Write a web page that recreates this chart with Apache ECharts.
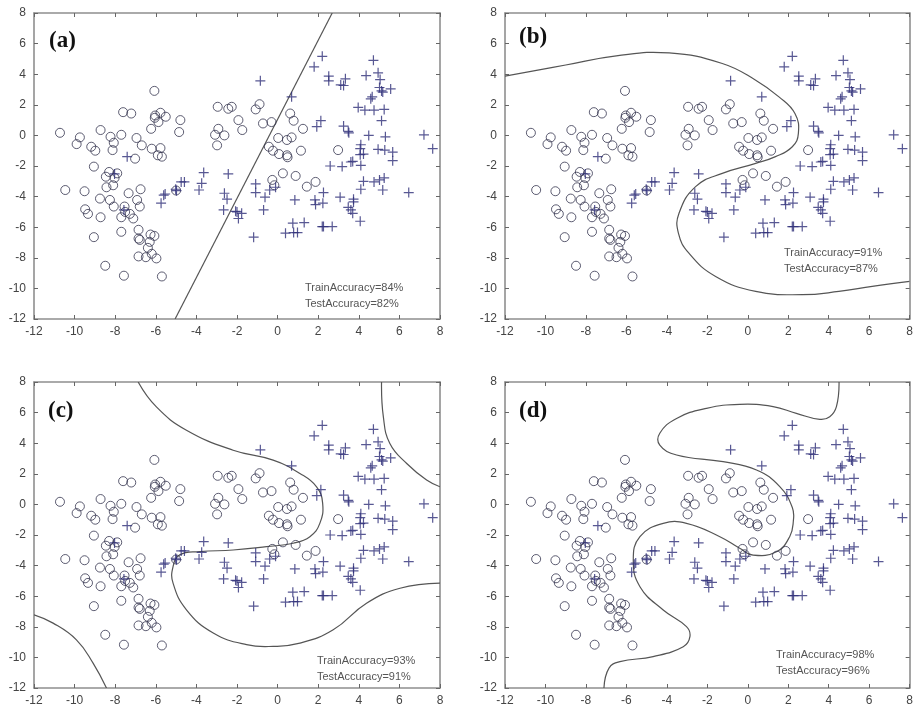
<!DOCTYPE html>
<html><head><meta charset="utf-8">
<script src="https://cdn.jsdelivr.net/npm/echarts@6/dist/echarts.min.js"></script>
<style>html,body{margin:0;background:#fff}#c{width:916px;height:710px}</style>
</head><body><div id="c"></div>
<script>
// ---- data (shared by all four panels) ----
const circles = [
[-10.72,0.17],[-9.74,-0.13],[-9.90,-0.57],[-9.18,-0.74],[-8.98,-1.0],[-8.72,0.35],[-9.05,-2.04],
[-10.46,-3.57],[-9.51,-3.65],[-9.48,-4.83],[-9.34,-5.13],[-8.75,-4.13],[-8.72,-5.35],[-9.05,-6.65],
[-8.49,-8.52],[-8.43,-3.39],[-8.46,-2.70],[-8.30,-2.39],[-8.10,-3.26],[-8.26,-4.22],[-8.07,-4.65],
[-8.23,-0.09],[-8.07,-0.48],[-8.13,-0.96],[-7.90,-2.48],[-8.03,-2.78],[-7.70,0.04],[-7.61,1.52],
[-7.21,1.43],[-7.70,-5.35],[-7.54,-4.65],[-7.34,-3.78],[-7.51,-5.0],[-7.28,-5.13],[-7.11,-5.43],
[-7.70,-6.30],[-7.57,-9.17],[-6.95,-0.17],[-7.02,-1.52],[-6.69,-0.65],[-6.92,-4.22],[-6.79,-4.65],
[-6.75,-3.52],[-6.85,-6.17],[-6.85,-6.74],[-6.79,-6.83],[-6.85,-7.91],[-6.49,-7.96],[-6.39,-7.35],
[-6.30,-6.96],[-6.26,-6.48],[-6.07,-6.57],[-6.20,-7.74],[-5.97,-8.04],[-5.70,-9.22],[-6.07,2.91],
[-6.23,0.43],[-6.03,1.30],[-5.77,1.48],[-5.87,0.87],[-5.51,1.22],[-6.20,-0.87],[-5.90,-1.30],
[-5.70,-1.39],[-5.77,-0.83],[-4.79,1.0],[-4.85,0.22],[-2.95,1.87],[-2.92,0.43],[-3.08,0.04],
[-2.62,0.0],[-2.98,-0.65],[-2.43,1.74],[-2.26,1.87],[-1.93,1.0],[-1.74,0.35],[-1.08,1.70],
[-0.89,2.04],[-0.72,0.78],[-0.30,0.87],[0.03,-0.17],[0.46,-0.30],[0.69,-0.13],[0.62,1.43],
[0.79,0.96],[1.25,0.43],[-0.43,-0.74],[-0.23,-1.0],[0.07,-1.22],[0.46,-1.30],[0.49,-1.43],
[1.15,-1.0],[0.26,-2.48],[0.89,-2.65],[-0.26,-2.91],[-0.16,-3.26],[1.44,-3.35],[1.87,-3.04],
[2.98,-0.96],[-6.05,1.15],[-5.0,-3.6]
];
const pluses = [
[-7.41,-1.39],[-8.03,-2.52],[-7.57,-4.87],[-5.74,-4.43],[-5.54,-3.83],[-5.61,-3.91],[-4.98,-3.61],
[-5.02,-3.52],[-4.75,-3.04],[-4.59,-3.04],[-3.87,-3.57],[-3.74,-3.13],[-3.64,-2.43],[-2.43,-2.52],
[-2.62,-3.78],[-2.49,-4.17],[-2.66,-4.87],[-2.07,-4.96],[-1.93,-5.43],[-1.77,-5.09],[-2.0,-5.0],
[-1.18,-6.65],[-1.08,-3.17],[-1.08,-3.74],[-0.62,-4.04],[-0.69,-4.87],[-0.39,-3.57],[-0.10,-3.39],
[-0.85,3.57],[0.69,2.52],[0.39,-6.39],[0.79,-6.35],[0.98,-6.35],[0.75,-5.74],[0.85,-4.22],
[1.31,-5.70],[1.84,-4.22],[1.87,-4.52],[2.26,-3.74],[2.23,-4.43],[2.20,-5.96],[2.26,-5.96],
[2.69,-5.96],[1.80,4.48],[2.20,5.17],[2.52,3.87],[2.52,3.57],[3.34,3.70],[3.11,3.30],[3.25,3.26],
[1.93,0.57],[2.13,0.96],[2.59,-2.0],[3.18,-2.04],[3.08,-4.04],[3.25,0.61],[3.48,0.26],[3.51,0.17],
[3.70,-1.70],[3.61,-1.74],[3.48,-4.70],[3.61,-4.87],[3.70,-5.09],[3.74,-4.17],[3.74,-4.35],
[4.07,-5.61],[4.10,-3.52],[4.23,-3.0],[4.10,-1.96],[4.07,-1.26],[4.10,-0.61],[4.07,-0.87],
[4.23,-1.22],[3.97,1.83],[4.30,1.65],[4.75,1.65],[5.25,1.70],[4.36,3.91],[4.49,0.0],[4.72,4.91],
[4.95,4.09],[5.05,3.65],[5.02,3.13],[5.12,2.91],[5.18,2.83],[5.57,3.04],[4.66,2.52],[4.59,2.39],
[5.12,0.96],[5.31,-0.09],[4.95,-0.91],[5.28,-0.96],[5.67,-1.09],[5.67,-1.65],[4.75,-3.04],
[5.02,-2.91],[5.25,-2.78],[5.18,-3.57],[6.46,-3.74],[7.21,0.04],[7.64,-0.87]
];
const boundaryA = [[-5.05,-12],[2.69,8]];
const boundaryB = [[-12,3.87],[-9,4.6],[-6.5,5.2],[-3.89,5.39],[-1.26,4.70],[0.39,3.61],[1.54,2.52],
[2.33,1.43],[2.50,0.13],[2.20,-0.74],[1.37,-1.39],[0.39,-1.83],[-1.26,-2.48],[-2.58,-3.35],
[-3.40,-5.09],[-3.43,-6.39],[-2.91,-7.70],[-1.59,-9.22],[0.39,-10.2],[2.69,-10.41],[4.50,-10.2],
[6.15,-9.87],[8,-9.54]];
const boundaryC1 = [[-6.87,8],[-5.97,6.37],[-4.49,4.85],[-2.19,3.54],[-0.22,2.89],[1.10,2.02],
[1.92,1.15],[2.22,0.07],[2.08,-1.24],[1.59,-2.11],[0.77,-2.54],[-0.55,-2.76],[-2.19,-2.98],
[-3.83,-3.09],[-4.82,-3.30],[-5.15,-4.07],[-5.15,-5.15],[-4.49,-6.89],[-3.17,-8.41],[-1.53,-9.17],
[-0.22,-9.28],[1.10,-9.07],[2.74,-8.2],[4.38,-6.46],[6.03,-5.48],[8,-5.15]];
const boundaryC2 = [[5.12,8],[5.21,5.72],[5.53,3.98],[6.36,2.67],[7.34,1.59],[8,1.15]];
const boundaryC3 = [[-12,-7.22],[-11.06,-7.76],[-9.91,-8.85],[-9.09,-10.37],[-8.43,-12]];
const boundaryD = [[4.51,8],[4.38,6.39],[4.05,5.73],[3.56,5.56],[2.40,5.95],[1.25,6.39],[-0.40,6.54],
[-2.04,6.28],[-3.52,5.62],[-4.35,4.65],[-4.35,3.88],[-3.52,3.23],[-1.22,2.79],[0.43,2.25],
[1.58,1.16],[2.2,-0.2],[2.25,-1.1],[2.07,-2.11],[1.42,-3.09],[0.26,-3.31],[-0.40,-2.87],
[-1.38,-2.11],[-3.03,-1.24],[-4.18,-1.24],[-5.33,-2.11],[-5.66,-3.63],[-5.33,-5.38],[-4.18,-6.90],
[-3.03,-7.99],[-2.86,-8.64],[-3.19,-9.30],[-4.68,-9.95],[-6.32,-10.28],[-6.86,-10.7],[-7.11,-12]];
const panelLabels = ['(a)','(b)','(c)','(d)'];
const trainAcc = [84, 91, 93, 98];
const testAcc = [82, 87, 91, 96];
const xTicks = {min:-12, max:8, interval:2};
const yTicks = {min:-12, max:8, interval:2};

// ---- layout ----
const grids = [
  {left:34, top:13, width:406, height:306},
  {left:505, top:13, width:405, height:306},
  {left:34, top:382, width:406, height:306},
  {left:505, top:382, width:405, height:306}
];
const boundaries = [[boundaryA],[boundaryB],[boundaryC1,boundaryC2,boundaryC3],[boundaryD]];
const labelPos = [[49,30],[519,26],[48,400],[519,400]];
const accPos = [[305,280],[784,245],[317,653],[776,647]];

const frame = '#8f8f8f';
const xAxis = [], yAxis = [], series = [], graphic = [];
grids.forEach((g, i) => {
  const base = {type:'value', gridIndex:i, min:xTicks.min, max:xTicks.max, interval:xTicks.interval,
    splitLine:{show:false}, axisLine:{show:true, onZero:false, lineStyle:{color:frame, width:1.6}},
    axisTick:{show:true, inside:true, length:4, lineStyle:{color:'#666'}}};
  xAxis.push(Object.assign({}, base, {position:'bottom',
    axisLabel:{color:'#444', fontSize:12, fontFamily:'Liberation Sans, Arial', margin:7}}));
  xAxis.push(Object.assign({}, base, {position:'top', axisLabel:{show:false}}));
  const ybase = Object.assign({}, base, {min:yTicks.min, max:yTicks.max, interval:yTicks.interval});
  yAxis.push(Object.assign({}, ybase, {position:'left',
    axisLabel:{color:'#444', fontSize:12, fontFamily:'Liberation Sans, Arial', margin:8}}));
  yAxis.push(Object.assign({}, ybase, {position:'right', axisLabel:{show:false}}));
  boundaries[i].forEach(b => series.push({type:'custom', xAxisIndex:2*i, yAxisIndex:2*i,
    data:[b[0]], silent:true, z:1, clip:true,
    renderItem:(params, api) => {
      const cs = params.coordSys;
      return {type:'polyline',
        shape:{points:b.map(p => api.coord(p)), smooth: b.length > 2 ? 0.45 : 0},
        style:{stroke:'#555', lineWidth:1.2, fill:null},
        clipPath:{type:'rect', shape:{x:cs.x, y:cs.y, width:cs.width, height:cs.height}}};
    }}));
  series.push({type:'scatter', xAxisIndex:2*i, yAxisIndex:2*i, data:circles, symbol:'circle',
    symbolSize:9, itemStyle:{color:'rgba(0,0,0,0)', borderColor:'#35354f', borderWidth:1}, z:2});
  series.push({type:'scatter', xAxisIndex:2*i, yAxisIndex:2*i, data:pluses,
    symbol:'path://M0,4.4H10V5.6H0ZM4.4,0H5.6V10H4.4Z', symbolSize:10,
    itemStyle:{color:'#2e2e78'}, z:3});
  graphic.push({type:'text', left:labelPos[i][0], top:labelPos[i][1],
    style:{text:panelLabels[i], font:'bold 23px "Liberation Serif", "Times New Roman", serif', fill:'#111'}});
  graphic.push({type:'text', left:accPos[i][0], top:accPos[i][1],
    style:{text:'TrainAccuracy=' + trainAcc[i] + '%\nTestAccuracy=' + testAcc[i] + '%',
      font:'11px "Liberation Sans", Arial, sans-serif', fill:'#555', lineHeight:16}});
});

const chart = echarts.init(document.getElementById('c'));
chart.setOption({animation:false, grid:grids, xAxis, yAxis, series, graphic});
</script></body></html>
